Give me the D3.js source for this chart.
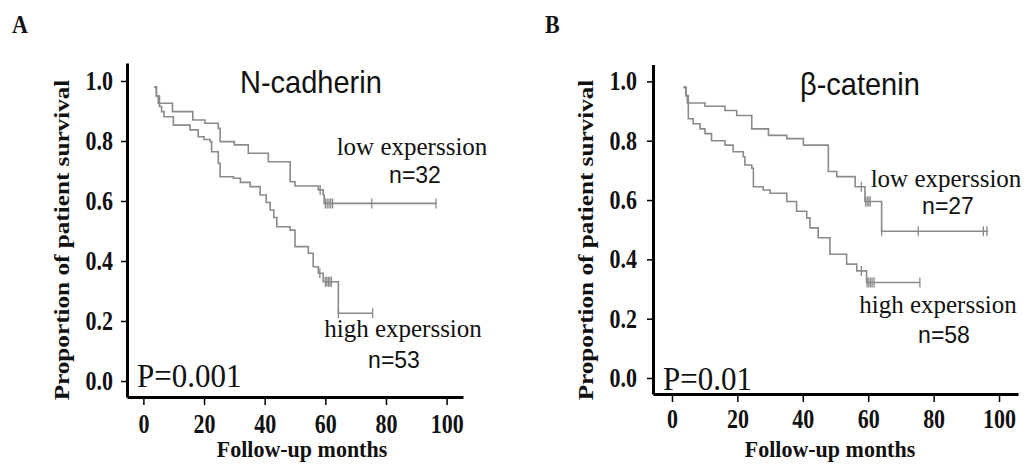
<!DOCTYPE html>
<html>
<head>
<meta charset="utf-8">
<script src="https://cdn.jsdelivr.net/npm/d3@7"></script>
<style>
body { margin: 0; background: #fff; }
svg { display: block; }
.tick text { font-family: "Liberation Serif", "Times New Roman", serif; font-weight: bold; font-size: 22px; fill: #111; }
</style>
</head>
<body>
<div id="chart"></div>
<script>
var monthTicks = [0, 20, 40, 60, 80, 100];
var survivalTicks = [0, 0.2, 0.4, 0.6, 0.8, 1.0];

// panel A: N-cadherin  [month, proportion surviving]
var ncadLow = [[3.5,0.98],[4.3,0.95],[4.9,0.926],[9.6,0.898],[16.3,0.87],[20.3,0.859],[24.7,0.842],[25.3,0.798],[30,0.787],[34.6,0.759],[41.2,0.731],[48.4,0.664],[50,0.65],[57.7,0.637],[59.3,0.62],[59.6,0.592],[96.7,0.592]];
var ncadHigh = [[3.5,0.98],[4.3,0.95],[5.3,0.915],[6,0.898],[6.8,0.881],[9.9,0.853],[15.4,0.837],[18.1,0.814],[20,0.805],[22,0.798],[22.5,0.764],[24.7,0.726],[25.3,0.681],[29.7,0.676],[32,0.662],[35.2,0.648],[38.5,0.62],[40.5,0.595],[41.8,0.57],[43,0.545],[44,0.514],[48.4,0.503],[50,0.448],[54.4,0.426],[56,0.381],[57.7,0.359],[59.3,0.331],[64.3,0.226],[75.6,0.226]];
var ncadLowCensor = [[58.3,0.637],[60,0.592],[60.6,0.592],[61.2,0.592],[61.8,0.592],[62.4,0.592],[75.3,0.592],[96.5,0.592]];
var ncadHighCensor = [[58.2,0.359],[60,0.331],[60.5,0.331],[61,0.331],[61.5,0.331],[62,0.331],[64.3,0.226],[75.6,0.226]];

// panel B: beta-catenin
var bcatLow = [[3.5,0.98],[4.3,0.952],[4.7,0.927],[10.1,0.916],[16.2,0.902],[19.8,0.885],[24.4,0.84],[29.5,0.818],[35.1,0.807],[40.2,0.785],[47.8,0.696],[50.4,0.679],[56,0.645],[59,0.595],[64.1,0.495],[96.7,0.495]];
var bcatHigh = [[3.5,0.98],[4.3,0.952],[5,0.874],[6.5,0.857],[8.6,0.84],[10.1,0.824],[12.1,0.8],[16.2,0.785],[18.7,0.763],[21.8,0.746],[22.3,0.718],[24.4,0.707],[24.9,0.645],[27.9,0.634],[30,0.623],[35.1,0.595],[38.1,0.562],[41.2,0.54],[42.2,0.506],[44.7,0.473],[48.3,0.417],[53.4,0.384],[56.5,0.361],[59.5,0.322],[75.8,0.322]];
var bcatLowCensor = [[57.9,0.645],[59.2,0.595],[59.7,0.595],[60.2,0.595],[60.6,0.595],[64.1,0.495],[75.3,0.495],[95.2,0.495],[96.3,0.495]];
var bcatHighCensor = [[57.9,0.361],[59.7,0.322],[60.2,0.322],[60.7,0.322],[61.2,0.322],[61.8,0.322],[75.8,0.322]];

var svg = d3.select("#chart").append("svg").attr("width", 1027).attr("height", 466);

var serif = '"Liberation Serif", "Times New Roman", serif';
var sans = '"Liberation Sans", Arial, sans-serif';

function addText(x, y, str, opt) {
    svg.append("text")
        .attr("transform", `translate(${x},${y}) scale(1,${opt.sy || 1})` + (opt.rotate ? " rotate(-90)" : ""))
        .attr("text-anchor", opt.anchor || "start")
        .style("font-family", opt.family || serif)
        .style("font-weight", opt.bold ? "bold" : "normal")
        .style("font-size", opt.size + "px")
        .style("fill", "#111")
        .text(str);
}

function drawPanel(p) {
    var x = d3.scaleLinear().domain(p.xDomain).range(p.xRange);
    var y = d3.scaleLinear().domain(p.yDomain).range(p.yRange);

    var gx = svg.append("g").attr("transform", `translate(0,${p.yRange[0]})`)
        .call(d3.axisBottom(x).tickValues(monthTicks).tickSizeInner(8).tickSizeOuter(0).tickPadding(6));
    gx.selectAll(".tick text").attr("dy", null).attr("y", p.xLabelY / 1.2).attr("transform", "scale(1,1.2)");

    var gy = svg.append("g").attr("transform", `translate(${p.xRange[0]},0)`)
        .call(d3.axisLeft(y).tickValues(survivalTicks).tickFormat(d3.format(".1f")).tickSizeInner(6).tickSizeOuter(0).tickPadding(p.yPad));
    gy.selectAll(".tick text").attr("transform", "scale(1,1.2)");

    [gx, gy].forEach(g => {
        g.select(".domain").attr("stroke", "#000").attr("stroke-width", 3);
        g.selectAll(".tick line").attr("stroke", "#000").attr("stroke-width", 1.5);
    });

    var line = d3.line().x(d => x(d[0])).y(d => y(d[1])).curve(d3.curveStepAfter);
    [p.low, p.high].forEach(s => {
        svg.append("path").attr("d", line(s)).attr("fill", "none")
            .attr("stroke", "#8a8a8a").attr("stroke-width", 1.6);
    });
    p.censor.forEach(d => {
        svg.append("line")
            .attr("x1", x(d[0])).attr("x2", x(d[0]))
            .attr("y1", y(d[1]) - 5).attr("y2", y(d[1]) + 5)
            .attr("stroke", "#8a8a8a").attr("stroke-width", 1.3);
    });

    addText(p.letter[1], 33, p.letter[0], {bold: true, size: 22, sy: 1.1});
    addText(p.title[1], p.title[2], p.title[0], {family: sans, size: 29, sy: 1.1});
    addText(p.yLabelX, 240, "Proportion of patient survival", {bold: true, size: 21, sy: 1.2, rotate: true, anchor: "middle"});
    addText(p.xLabelX, 457, "Follow-up months", {bold: true, size: 22, sy: 1.05, anchor: "middle"});
    addText(p.pText[1], p.pText[2], p.pText[0], {size: 31, sy: 1.1});
    addText(p.lowLabel[0], p.lowLabel[1], "low experssion", {size: 25, anchor: "middle"});
    addText(p.lowN[1], p.lowN[2], p.lowN[0], {family: sans, size: 23, anchor: "middle"});
    addText(p.highLabel[0], p.highLabel[1], "high experssion", {size: 25, anchor: "middle"});
    addText(p.highN[1], p.highN[2], p.highN[0], {family: sans, size: 23, anchor: "middle"});
}

drawPanel({
    xDomain: [-5.4, 105.4], xRange: [127, 463],
    yDomain: [-0.0533, 1.06], yRange: [397, 63],
    xLabelY: 36, yPad: 8,
    low: ncadLow, high: ncadHigh, censor: ncadLowCensor.concat(ncadHighCensor),
    letter: ["A", 12], title: ["N-cadherin", 240, 93],
    yLabelX: 69, xLabelX: 302, pText: ["P=0.001", 137, 387],
    lowLabel: [412, 155], lowN: ["n=32", 415, 183],
    highLabel: [403, 337], highN: ["n=53", 394, 368]
});

drawPanel({
    xDomain: [-5.8, 105.8], xRange: [653, 1018],
    yDomain: [-0.054, 1.057], yRange: [394, 64.5],
    xLabelY: 34, yPad: 10,
    low: bcatLow, high: bcatHigh, censor: bcatLowCensor.concat(bcatHighCensor),
    letter: ["B", 545], title: ["β-catenin", 800, 95],
    yLabelX: 593, xLabelX: 830, pText: ["P=0.01", 663, 390],
    lowLabel: [946, 187], lowN: ["n=27", 948, 214],
    highLabel: [938, 313], highN: ["n=58", 944, 343]
});
</script>
</body>
</html>
